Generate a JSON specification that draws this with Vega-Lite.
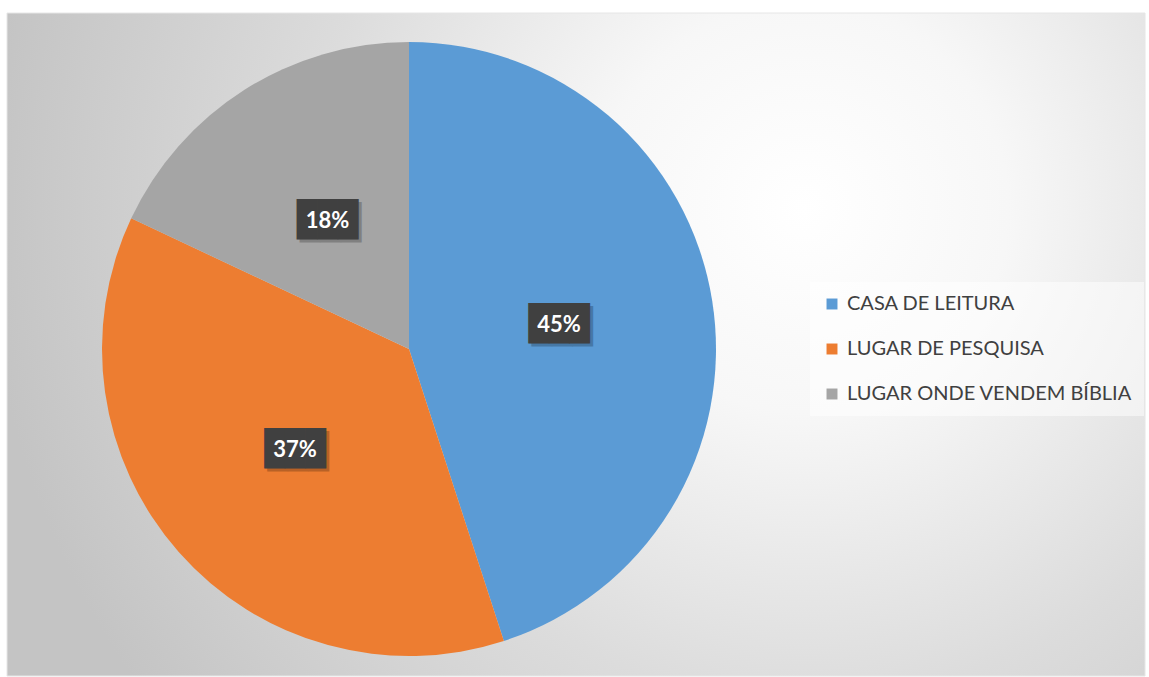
{
  "$schema": "https://vega.github.io/schema/vega-lite/v6.json",
  "width": 1149,
  "height": 677,
  "autosize": {"type": "fit", "contains": "padding"},
  "padding": {"left": 6, "top": 12, "right": 3, "bottom": 0},
  "background": "#ffffff",
  "config": {"view": {"stroke": null}},
  "datasets": {
    "fatias": [
      {"categoria": "CASA DE LEITURA", "pct": 45, "ord": 1, "rotulo": "45%"},
      {"categoria": "LUGAR DE PESQUISA", "pct": 37, "ord": 2, "rotulo": "37%"},
      {"categoria": "LUGAR ONDE VENDEM BÍBLIA", "pct": 18, "ord": 3, "rotulo": "18%"}
    ],
    "fundo": [{"painel": "fundo"}]
  },
  "layer": [
    {
      "data": {"name": "fundo"},
      "mark": {
        "type": "rect",
        "x": 0, "x2": "width", "y": 0, "y2": "height",
        "stroke": "#e6e6e6", "strokeWidth": 1,
        "fill": {
          "gradient": "radial",
          "x1": 0.7, "y1": 0.38, "r1": 0,
          "x2": 0.7, "y2": 0.38, "r2": 0.72,
          "stops": [
            {"offset": 0, "color": "#ffffff"},
            {"offset": 0.25, "color": "#f7f7f7"},
            {"offset": 0.6, "color": "#dcdcdc"},
            {"offset": 1, "color": "#c4c4c4"}
          ]
        }
      },
      "encoding": {}
    },
    {
      "data": {"name": "fatias"},
      "encoding": {
        "theta": {"field": "pct", "type": "quantitative", "stack": true},
        "order": {"field": "ord", "type": "quantitative"}
      },
      "layer": [
        {
          "mark": {"type": "arc", "outerRadius": 307, "x": 402, "y": 336},
          "encoding": {
            "color": {
              "field": "categoria",
              "type": "nominal",
              "scale": {
                "domain": ["CASA DE LEITURA", "LUGAR DE PESQUISA", "LUGAR ONDE VENDEM BÍBLIA"],
                "range": ["#5b9bd5", "#ed7d31", "#a5a5a5"]
              },
              "legend": {
                "orient": "none",
                "legendX": 803,
                "legendY": 269,
                "title": null,
                "symbolType": "square",
                "symbolSize": 120,
                "symbolStrokeWidth": 0,
                "labelFontSize": 20,
                "labelFont": "Lato",
                "labelColor": "#404040",
                "labelOffset": 5,
                "labelLimit": 0,
                "fillColor": "#ffffff80",
                "padding": 12,
                "rowPadding": 25
              }
            }
          }
        },
        {
          "mark": {"type": "text", "radius": 152, "x": 402, "y": 336, "text": "███", "font": "DejaVu Sans Mono", "fontSize": 34, "color": "#000000", "opacity": 0.22, "dx": 3, "dy": 3}
        },
        {
          "mark": {"type": "text", "radius": 152, "x": 402, "y": 336, "text": "███", "font": "DejaVu Sans Mono", "fontSize": 34, "color": "#404040"}
        },
        {
          "mark": {"type": "text", "radius": 152, "x": 402, "y": 336, "font": "Lato", "fontSize": 22, "fontWeight": "bold", "color": "#ffffff"},
          "encoding": {"text": {"field": "rotulo", "type": "nominal"}}
        }
      ]
    }
  ]
}
